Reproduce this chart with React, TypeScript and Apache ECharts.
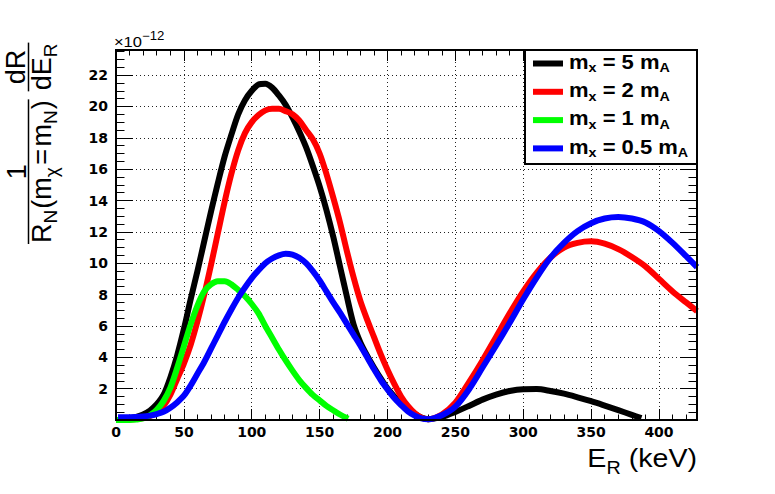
import React, { useEffect, useRef } from "react";
import * as echarts from "echarts";

// ---------------- data (x in keV, y in 1e-12) ----------------
const BLACK_E = [5, 10, 15, 20, 25, 30, 35, 40, 45, 50, 55, 60, 65, 70, 75, 80, 85, 90, 95, 100, 105, 110, 115, 120, 125, 130, 135, 140, 145, 150, 155, 160, 165, 170, 175, 180, 185, 190, 195, 200, 205, 210, 215, 220, 225, 230, 240, 250, 260, 270, 280, 290, 300, 310, 320, 330, 340, 350, 360, 370, 380, 387];
const BLACK_V = [0.05, 0.1, 0.2, 0.35, 0.6, 1.0, 1.6, 2.7, 4.1, 5.8, 7.7, 9.5, 11.4, 13.3, 15.1, 16.8, 18.2, 19.5, 20.4, 21.0, 21.4, 21.45, 21.2, 20.7, 20.1, 19.3, 18.4, 17.4, 16.2, 14.9, 13.4, 11.7, 9.8, 7.9, 6.1, 4.95, 4.1, 3.35, 2.65, 2.0, 1.5, 1.05, 0.7, 0.4, 0.15, 0.05, 0.2, 0.52, 0.9, 1.3, 1.62, 1.85, 1.96, 1.97, 1.85, 1.68, 1.45, 1.2, 0.92, 0.63, 0.33, 0.12];

const RED_E = [5, 10, 15, 20, 25, 30, 35, 40, 45, 50, 55, 60, 65, 70, 75, 80, 85, 90, 95, 100, 105, 110, 115, 120, 125, 130, 135, 140, 145, 150, 155, 160, 165, 170, 175, 180, 185, 190, 195, 200, 205, 210, 215, 220, 225, 230, 240, 250, 260, 270, 280, 290, 300, 310, 320, 330, 340, 350, 360, 370, 380, 390, 400, 410, 420, 428];
const RED_V = [0.02, 0.03, 0.06, 0.12, 0.25, 0.5, 0.9, 1.6, 2.6, 3.6, 4.8, 6.3, 8.0, 9.9, 11.9, 13.9, 15.7, 17.2, 18.3, 19.0, 19.45, 19.75, 19.85, 19.85, 19.7, 19.5, 19.1, 18.5, 17.9, 17.0, 15.7, 14.2, 12.6, 10.8, 9.1, 7.6, 6.4, 5.3, 4.2, 3.2, 2.3, 1.5, 0.9, 0.45, 0.15, 0.05, 0.35, 1.1, 2.4, 3.8, 5.3, 6.8, 8.2, 9.4, 10.35, 11.0, 11.3, 11.4, 11.25, 10.9, 10.4, 9.8, 9.0, 8.2, 7.5, 6.95];

const GREEN_E = [0, 5, 10, 15, 20, 25, 30, 35, 40, 45, 50, 55, 60, 65, 70, 75, 80, 85, 90, 95, 100, 105, 110, 115, 120, 125, 130, 135, 140, 145, 150, 155, 160, 165, 171];
const GREEN_V = [0, 0, 0, 0.03, 0.1, 0.3, 0.65, 1.2, 2.05, 3.3, 4.7, 6.1, 7.3, 8.2, 8.65, 8.85, 8.85, 8.65, 8.3, 7.9, 7.4, 6.8, 6.0, 5.25, 4.5, 3.8, 3.15, 2.55, 2.05, 1.6, 1.25, 0.9, 0.62, 0.35, 0.08];

const BLUE_E = [1.5, 5, 10, 15, 20, 25, 30, 35, 40, 45, 50, 55, 60, 65, 70, 75, 80, 85, 90, 95, 100, 105, 110, 115, 120, 125, 130, 135, 140, 145, 150, 155, 160, 165, 170, 175, 180, 185, 190, 195, 200, 205, 210, 215, 220, 225, 230, 240, 250, 260, 270, 280, 290, 300, 310, 320, 330, 340, 350, 360, 370, 380, 390, 400, 410, 420, 428];
const BLUE_V = [0.18, 0.18, 0.18, 0.19, 0.22, 0.28, 0.38, 0.52, 0.78, 1.12, 1.55, 2.2, 2.95, 3.7, 4.55, 5.4, 6.25, 7.05, 7.8, 8.45, 9.05, 9.55, 10.0, 10.3, 10.5, 10.6, 10.55, 10.35, 10.0, 9.5, 8.9, 8.2, 7.5, 6.85, 6.15, 5.45, 4.75, 4.0, 3.25, 2.55, 1.95, 1.4, 0.95, 0.55, 0.28, 0.1, 0.05, 0.3, 0.85, 1.95, 3.35, 4.75, 6.2, 7.7, 9.1, 10.35, 11.3, 12.05, 12.55, 12.85, 12.95, 12.85, 12.6, 12.05, 11.3, 10.45, 9.75];

const SERIES_VALUES = ["5", "2", "1", "0.5"];
const SERIES_COLORS = ["#000000", "#ff0000", "#00ff00", "#0000ff"];

const X_MIN = 0;
const X_MAX = 428;
const X_STEP = 50;
const Y_MIN = 0;
const Y_MAX = 23.6;
const Y_STEP = 2;
const Y_EXPONENT = "\u221212";

// ---------------- helpers ----------------
const FAM = "Liberation Sans";
let mctx: CanvasRenderingContext2D | null = null;
function tw(t: string, size: number, weight = "normal") {
  if (!mctx) mctx = document.createElement("canvas").getContext("2d");
  mctx!.font = `${weight} ${size}px "${FAM}"`;
  return mctx!.measureText(t).width;
}
type Piece = { t: string; s: number; dy?: number; gap?: number };
function row(pieces: Piece[], baseline: number, weight = "normal", x0 = 0) {
  let x = x0;
  const els: any[] = [];
  for (const p of pieces) {
    x += p.gap || 0;
    els.push({
      type: "text",
      x,
      y: baseline + (p.dy || 0) - 0.35 * p.s,
      silent: true,
      style: {
        text: p.t,
        fontSize: p.s,
        fontFamily: FAM,
        fontWeight: weight,
        fill: "#000",
        align: "left",
        verticalAlign: "middle",
      },
    });
    x += tw(p.t, p.s, weight);
  }
  return { els, width: x - x0 };
}

function buildGraphics() {
  const g: any[] = [];
  // frame
  g.push({
    type: "rect",
    z: 100,
    silent: true,
    shape: { x: 116, y: 50, width: 581, height: 370 },
    style: { fill: "none", stroke: "#000", lineWidth: 2 },
  });

  // legend
  g.push({
    type: "rect",
    z: 110,
    silent: true,
    shape: { x: 525, y: 50, width: 172, height: 114 },
    style: { fill: "#fff", stroke: "#000", lineWidth: 2 },
  });
  SERIES_VALUES.forEach((val, i) => {
    const cy = 63.5 + i * 28.3;
    g.push({
      type: "line",
      z: 111,
      silent: true,
      shape: { x1: 533, y1: cy, x2: 563, y2: cy },
      style: { stroke: SERIES_COLORS[i], lineWidth: 6 },
    });
    const r = row(
      [
        { t: "m", s: 20 },
        { t: "x", s: 13, dy: 4 },
        { t: "= " + val + " m", s: 20, gap: tw(" ", 20, "bold") },
        { t: "A", s: 13, dy: 4 },
      ],
      cy + 5.2,
      "bold"
    );
    g.push({ type: "group", x: 569, y: 0, scaleX: 1.1, z: 112, children: r.els.map((e) => ({ ...e, z: 112 })) });
  });

  // x title
  const xt = row(
    [
      { t: "E", s: 26 },
      { t: "R", s: 18, dy: 7 },
      { t: "(keV)", s: 26, gap: tw(" ", 26) },
    ],
    467
  );
  g.push({ type: "group", x: 697 - xt.width * 1.1, y: 0, scaleX: 1.1, children: xt.els });

  // exponent
  const ex = row(
    [
      { t: "\u00d710", s: 15 },
      { t: Y_EXPONENT, s: 12, dy: -7 },
    ],
    47
  );
  g.push({ type: "group", x: 114, y: 0, scaleX: 1.1, children: ex.els });

  // y title (rotated): local u along text, local v = screen x
  const F = 27;
  const S = 19;
  const den = row(
    [
      { t: "R", s: F },
      { t: "N", s: S, dy: 6 },
      { t: "(m", s: F, gap: 1 },
      { t: "\u03c7", s: S, dy: 7 },
      { t: "=", s: F, gap: 2.5 },
      { t: "m", s: F, gap: 2.5 },
      { t: "N", s: S, dy: 6 },
      { t: ")", s: F, gap: 1 },
    ],
    48,
    "normal",
    0
  );
  const Ld = den.width;
  const w1 = tw("1", F);
  const num = row([{ t: "1", s: F }], 23, "normal", (Ld - w1) / 2);
  const u1 = Ld + 10;
  const den2 = row(
    [
      { t: "dE", s: F },
      { t: "R", s: S, dy: 6 },
    ],
    48,
    "normal",
    u1
  );
  const L2 = den2.width;
  const wdr = tw("dR", F);
  const num2 = row([{ t: "dR", s: F }], 22, "normal", u1 + (L2 - wdr) / 2);
  const children = [
    ...den.els,
    ...num.els,
    ...den2.els,
    ...num2.els,
    { type: "line", silent: true, shape: { x1: -1, y1: 25.5, x2: Ld + 1, y2: 25.5 }, style: { stroke: "#000", lineWidth: 1.5 } },
    { type: "line", silent: true, shape: { x1: u1 - 1, y1: 25.5, x2: u1 + L2 + 1, y2: 25.5 }, style: { stroke: "#000", lineWidth: 1.5 } },
  ];
  g.push({ type: "group", x: 3, y: 243, rotation: Math.PI / 2, children });
  return g;
}

const isMult = (v: number, s: number) => Math.abs(v / s - Math.round(v / s)) < 1e-6;

export default function App() {
  const ref = useRef<HTMLDivElement>(null);
  useEffect(() => {
    if (!ref.current) return;
    const chart = echarts.init(ref.current, undefined, { renderer: "svg" });
    const mk = (E: number[], V: number[]) => E.map((e, i) => [e, V[i]]);
    const datas = [mk(BLACK_E, BLACK_V), mk(RED_E, RED_V), mk(GREEN_E, GREEN_V), mk(BLUE_E, BLUE_V)];
    const tickLabel = {
      color: "#000",
      fontFamily: "DejaVu Sans",
      fontWeight: "bold",
      fontSize: 14,
    };
    const axisLine = { show: true, onZero: false, lineStyle: { color: "#000", width: 2 } };
    const split = { show: true, lineStyle: { color: "#222", type: [1, 3], width: 1 } };
    const xBase = { type: "value", min: X_MIN, max: X_MAX, interval: X_STEP, axisLine };
    const yBase = { type: "value", min: Y_MIN, max: Y_MAX, interval: Y_STEP, axisLine };
    const xTick = { show: true, inside: true, length: 11, lineStyle: { color: "#000", width: 1 } };
    const xMinor = { show: true, splitNumber: 5, length: 5.5, lineStyle: { color: "#000", width: 1 } };
    const yTick = { show: true, inside: true, length: 17, lineStyle: { color: "#000", width: 1 } };
    const yMinor = { show: true, splitNumber: 4, length: 8.5, lineStyle: { color: "#000", width: 1 } };
    const option: any = {
      animation: false,
      backgroundColor: "#fff",
      grid: { left: 116, top: 50, width: 581, height: 370, outerBoundsMode: "none" },
      xAxis: [
        {
          ...xBase,
          position: "bottom",
          axisTick: xTick,
          minorTick: xMinor,
          splitLine: split,
          axisLabel: { ...tickLabel, margin: 5, formatter: (v: number) => (isMult(v, X_STEP) ? String(v) : "") },
        },
        {
          ...xBase,
          position: "top",
          axisTick: xTick,
          minorTick: xMinor,
          splitLine: { show: false },
          axisLabel: { show: false },
        },
      ],
      yAxis: [
        {
          ...yBase,
          position: "left",
          axisTick: yTick,
          minorTick: yMinor,
          splitLine: split,
          axisLabel: {
            ...tickLabel,
            margin: 8,
            formatter: (v: number) => (v > 0 && isMult(v, Y_STEP) ? String(Math.round(v)) : ""),
          },
        },
        {
          ...yBase,
          position: "right",
          axisTick: yTick,
          minorTick: yMinor,
          splitLine: { show: false },
          axisLabel: { show: false },
        },
      ],
      series: datas.map((d, i) => ({
        type: "line",
        name: "m_x = " + SERIES_VALUES[i] + " m_A",
        data: d,
        xAxisIndex: 0,
        yAxisIndex: 0,
        showSymbol: false,
        symbol: "none",
        smooth: 0.3,
        clip: true,
        z: 3 + i,
        lineStyle: { color: SERIES_COLORS[i], width: 6, join: "round" },
        itemStyle: { color: SERIES_COLORS[i] },
      })),
      graphic: buildGraphics(),
    };
    chart.setOption(option);
    return () => chart.dispose();
  }, []);
  return (
    <div
      ref={ref}
      style={{ position: "fixed", left: 0, top: 0, width: 775, height: 494, background: "#fff" }}
    />
  );
}
